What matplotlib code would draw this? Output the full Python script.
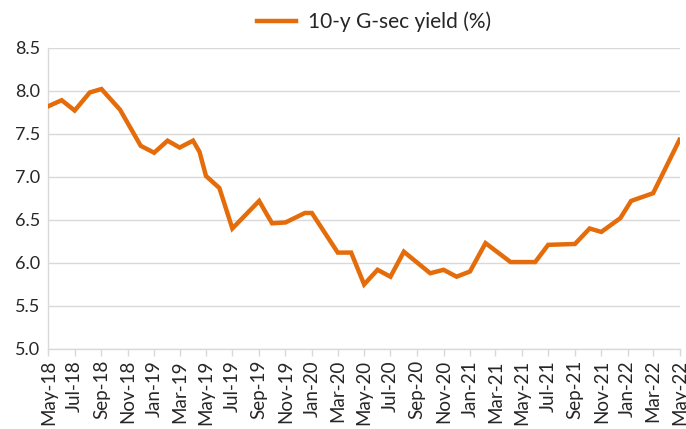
import matplotlib
matplotlib.use("Agg")
import matplotlib.pyplot as plt
import matplotlib.dates as mdates
import numpy as np
from datetime import datetime

dates = ["2018-05-01", "2018-06-01", "2018-07-01", "2018-08-05", "2018-09-01",
         "2018-10-14", "2018-12-01", "2019-01-01", "2019-02-01", "2019-03-01",
         "2019-04-01", "2019-04-16", "2019-05-01", "2019-06-01", "2019-07-01",
         "2019-09-01", "2019-09-17", "2019-10-01", "2019-11-01", "2019-12-16",
         "2020-01-01", "2020-03-01", "2020-04-01", "2020-05-01", "2020-06-01",
         "2020-07-01", "2020-08-01", "2020-10-01", "2020-11-01", "2020-12-01",
         "2021-01-01", "2021-02-06", "2021-04-05", "2021-06-01", "2021-07-01",
         "2021-09-01", "2021-10-05", "2021-11-01", "2021-12-15", "2022-01-09",
         "2022-03-01", "2022-05-01"]
yields = [7.82, 7.89, 7.77, 7.98, 8.02,
          7.78, 7.36, 7.28, 7.42, 7.34,
          7.42, 7.29, 7.01, 6.87, 6.40,
          6.72, 6.58, 6.46, 6.47, 6.58,
          6.58, 6.12, 6.12, 5.75, 5.92,
          5.84, 6.13, 5.88, 5.92, 5.84,
          5.90, 6.23, 6.01, 6.01, 6.21,
          6.22, 6.40, 6.36, 6.52, 6.72,
          6.81, 7.43]

tick_dates = ["2018-05-01", "2018-07-01", "2018-09-01", "2018-11-01", "2019-01-01",
              "2019-03-01", "2019-05-01", "2019-07-01", "2019-09-01", "2019-11-01",
              "2020-01-01", "2020-03-01", "2020-05-01", "2020-07-01", "2020-09-01",
              "2020-11-01", "2021-01-01", "2021-03-01", "2021-05-01", "2021-07-01",
              "2021-09-01", "2021-11-01", "2022-01-01", "2022-03-01", "2022-05-01"]
tick_labels = ["May-18", "Jul-18", "Sep-18", "Nov-18", "Jan-19", "Mar-19", "May-19",
               "Jul-19", "Sep-19", "Nov-19", "Jan-20", "Mar-20", "May-20", "Jul-20",
               "Sep-20", "Nov-20", "Jan-21", "Mar-21", "May-21", "Jul-21", "Sep-21",
               "Nov-21", "Jan-22", "Mar-22", "May-22"]
y_ticks = [5.0, 5.5, 6.0, 6.5, 7.0, 7.5, 8.0, 8.5]
series_name = "10-y G-sec yield (%)"

plt.rcParams['font.family'] = ['Lato', 'DejaVu Sans']

x = [datetime.strptime(d, "%Y-%m-%d") for d in dates]
xt = [datetime.strptime(d, "%Y-%m-%d") for d in tick_dates]

fig = plt.figure(figsize=(6.86, 4.29), dpi=100)
ax = fig.add_axes([48.3/686, 1-349/429, (679.5-48.3)/686, (349-47.7)/429])

grid_c = "#d9d9d9"
text_c = "#262626"
line_c = "#E46C0A"

ax.plot(x, yields, color=line_c, lw=3.2, solid_joinstyle='miter', label=series_name, zorder=3)

ax.set_xlim(xt[0], xt[-1])
ax.set_ylim(5.0, 8.5)
ax.set_yticks(y_ticks)
ax.set_yticklabels([f"{v:.1f}" for v in y_ticks])
ax.set_xticks(xt)
ax.set_xticklabels(tick_labels, rotation=90)

ax.grid(axis='y', color=grid_c, lw=1.0, zorder=0)
for s in ['top', 'right']:
    ax.spines[s].set_visible(False)
for s in ['left', 'bottom']:
    ax.spines[s].set_color(grid_c)
    ax.spines[s].set_linewidth(1.0)
ax.tick_params(axis='y', length=0, pad=6, labelsize=13, labelcolor=text_c)
ax.tick_params(axis='x', length=5, color=grid_c, width=1.0, pad=3, labelsize=13.5, labelcolor=text_c)

fig.legend(loc='center', bbox_to_anchor=(374/686, 1-22/429), frameon=False,
           fontsize=15, handlelength=1.9, handletextpad=0.55, labelcolor=text_c)

fig.savefig("out.png", dpi=100)
